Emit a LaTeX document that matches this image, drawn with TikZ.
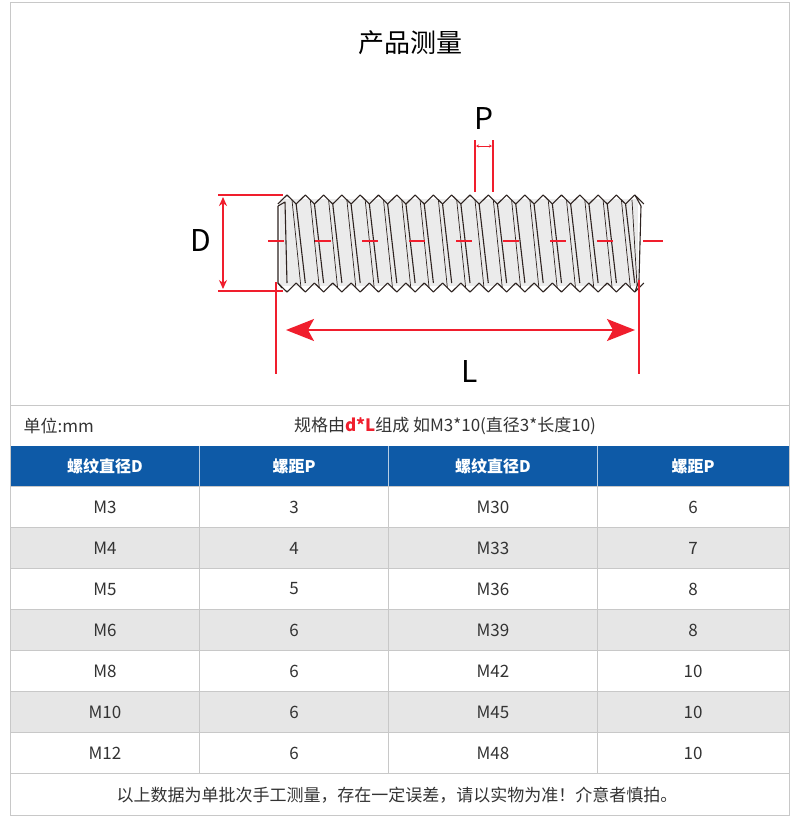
\documentclass[tikz,border=0pt]{standalone}
\usepackage{fontspec}
\setmainfont{Noto Sans CJK SC}
\usetikzlibrary{arrows.meta}
\definecolor{hdr}{HTML}{0E5AA7}
\definecolor{rowg}{HTML}{E6E6E6}
\definecolor{grid}{HTML}{C8C8C8}
\definecolor{dimred}{HTML}{F01E2D}
\definecolor{screw}{HTML}{2E2320}
\definecolor{txt}{HTML}{333333}
\tikzset{
 dim/.style={draw=dimred,line width=1.6pt},
 hcell/.style={text=white,font=\fontsize{16}{18}\selectfont\bfseries},
 bcell/.style={text=txt,font=\fontsize{17}{19}\selectfont},
 thr/.style={draw=screw,line width=1.1pt,line join=round},
}
\begin{document}
\begin{tikzpicture}[x=1pt,y=-1pt]
\useasboundingbox (0,0) rectangle (799,820);
\fill[white] (0,0) rectangle (799,820);
\node (title) at (410,43) {\fontsize{26}{28}\selectfont 产品测量};
% screw body
\fill[white!92!black] (280,199) rectangle (638,286);
\foreach \i in {0,...,19}{
  \pgfmathsetmacro{\xc}{287+\i*18.3}
  \draw[thr] (\xc-9.15,204) -- (\xc,195) -- (\xc+9.15,204);
  \draw[thr] (\xc-9.15,283) -- (\xc,292) -- (\xc+9.15,283);
}
\foreach \i in {0,...,18}{
  \pgfmathsetmacro{\xc}{287+\i*18.3}
  \draw[thr] (\xc+9.15,204) -- (\xc+18.3,283);
  \draw[thr,line width=0.7pt] (\xc+5,200) -- (\xc+14,288);
}
\draw[thr] (278,206) -- (278,283) -- (282,288);
\draw[thr] (278,206) -- (285,202) -- (287,283);
\draw[thr] (635,195) -- (641,206) -- (639,280) -- (635,292);
\draw[thr,line width=0.7pt] (632,200) -- (637,285);
% center line
\draw[dim,dash pattern=on 16pt off 31pt] (268,241) -- (628,241);
\draw[dim] (643,241) -- (663,241);
% D
\coordinate (dt) at (218,195); \coordinate (dte) at (283,195);
\coordinate (db) at (218,291); \coordinate (dbe) at (283,291);
\draw[dim] (dt) -- (dte); \draw[dim] (db) -- (dbe);
\coordinate (da) at (223,197); \coordinate (dz) at (223,289);
\draw[dim,{Stealth[length=9pt,width=8pt]}-{Stealth[length=9pt,width=8pt]}] (da) -- (dz);
\node (D) at (201,240) {\fontsize{30}{32}\selectfont D};
% P
\coordinate (p1a) at (475,140); \coordinate (p1b) at (475,192);
\coordinate (p2a) at (493,140); \coordinate (p2b) at (493,192);
\draw[dim] (p1a) -- (p1b); \draw[dim] (p2a) -- (p2b);
\coordinate (pa) at (476,146); \coordinate (pz) at (492,146);
\draw[dimred,line width=1pt,{Stealth[length=3pt,width=3pt]}-{Stealth[length=3pt,width=3pt]}] (pa) -- (pz);
\node (P) at (484,118) {\fontsize{30}{32}\selectfont P};
% L
\coordinate (l1a) at (276,282); \coordinate (l1b) at (276,374);
\coordinate (l2a) at (639,280); \coordinate (l2b) at (639,374);
\draw[dim] (l1a) -- (l1b); \draw[dim] (l2a) -- (l2b);
\coordinate (la) at (286,330); \coordinate (lz) at (635,330);
\draw[dim,{Stealth[length=28pt,width=22pt,inset=6pt]}-{Stealth[length=28pt,width=22pt,inset=6pt]}] (la) -- (lz);
\node (L) at (470,371) {\fontsize{30}{32}\selectfont L};
% table
\fill[hdr] (10,446) rectangle (789,486);
\foreach \r in {1,3,5}{\fill[rowg] (10,486+\r*41) rectangle (789,527+\r*41);}
\draw[grid] (10,2) rectangle (789,815);
\draw[grid] (10,405) -- (789,405);
\foreach \r in {0,...,7}{\draw[grid] (10,486+\r*41) -- (789,486+\r*41);}
\foreach \x in {199,388,597}{\draw[grid] (\x,486) -- (\x,773); \draw[white!70!hdr] (\x,446) -- (\x,486);}
\node[anchor=west,bcell] (unit) at (20,426) {单位:mm};
\node[bcell] (spec) at (445,426) {规格由{\color{dimred}\bfseries d*L}组成 如M3*10(直径3*长度10)};
\node[hcell] (h1) at (105,466) {螺纹直径D};
\node[hcell] (h2) at (294,466) {螺距P};
\node[hcell] (h3) at (493,466) {螺纹直径D};
\node[hcell] (h4) at (693,466) {螺距P};
\foreach \a/\b/\c/\d [count=\k from 0] in {M3/3/M30/6,M4/4/M33/7,M5/5/M36/8,M6/6/M39/8,M8/6/M42/10,M10/6/M45/10,M12/6/M48/10}{
  \node[bcell] (c1-\k) at (105,507+\k*41) {\a};
  \node[bcell] (c2-\k) at (294,507+\k*41) {\b};
  \node[bcell] (c3-\k) at (493,507+\k*41) {\c};
  \node[bcell] (c4-\k) at (693,507+\k*41) {\d};
}
\node[bcell] (foot) at (397,795) {以上数据为单批次手工测量，存在一定误差，请以实物为准！介意者慎拍。};
\end{tikzpicture}
\end{document}
